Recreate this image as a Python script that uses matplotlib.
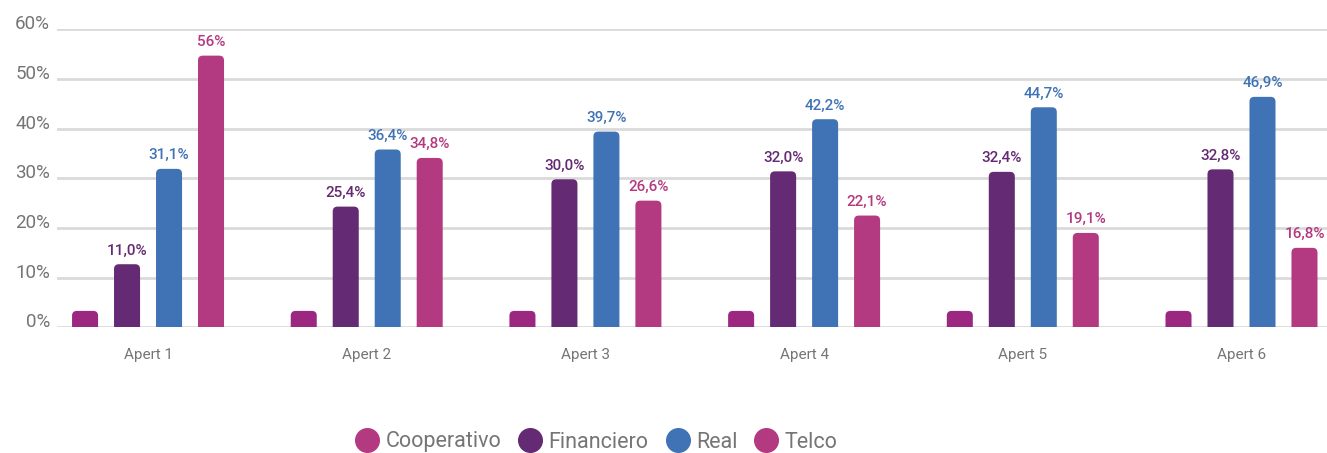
import numpy as np
import matplotlib
import matplotlib.pyplot as plt
from matplotlib.patches import FancyBboxPatch
from matplotlib.lines import Line2D

plt.rcParams['font.family'] = ['Roboto', 'DejaVu Sans']

# datos
grupos = ['Apert 1', 'Apert 2', 'Apert 3', 'Apert 4', 'Apert 5', 'Apert 6']
series = ['Cooperativo', 'Financiero', 'Real', 'Telco']
cooperativo = [3.3, 3.3, 3.3, 3.3, 3.3, 3.3]
financiero = [12.7, 24.3, 29.8, 31.4, 31.3, 31.8]
real = [31.9, 35.8, 39.4, 41.9, 44.3, 46.4]
telco = [54.7, 34.1, 25.5, 22.5, 19.0, 16.0]
etiq_financiero = ['11,0%', '25,4%', '30,0%', '32,0%', '32,4%', '32,8%']
etiq_real = ['31,1%', '36,4%', '39,7%', '42,2%', '44,7%', '46,9%']
etiq_telco = ['56%', '34,8%', '26,6%', '22,1%', '19,1%', '16,8%']
yticks = [0, 10, 20, 30, 40, 50, 60]

# colores
c_barras = ['#9B2780', '#642A73', '#4073B5', '#B33A80']
c_leyenda = ['#B33A80', '#642A73', '#4073B5', '#B33A80']
gris = '#757575'

fig = plt.figure(figsize=(13.27, 4.53), dpi=100)
ax = fig.add_axes([0.043, 0.2775, 0.957, 0.6578])

x = np.arange(len(grupos))
ancho = 0.119
paso = 0.192
aspecto = (1270 / 5.81) / (0.6578 * 453 / 60)  # px por unidad x / px por unidad y

datos = [cooperativo, financiero, real, telco]
etiquetas = [None, etiq_financiero, etiq_real, etiq_telco]

for i, vals in enumerate(datos):
    barras = ax.bar(x + (i - 1.5) * paso, vals, ancho, color=c_barras[i], zorder=3)
    for j, r in enumerate(barras):
        # barra con esquinas redondeadas arriba (la parte de abajo queda recortada)
        p = FancyBboxPatch((r.get_x(), -2), r.get_width(), r.get_height() + 2,
                           boxstyle='round,pad=0,rounding_size=0.022',
                           mutation_aspect=aspecto, fc=c_barras[i], ec='none', zorder=3)
        ax.add_patch(p)
        r.remove()
        if etiquetas[i] is not None:
            ax.annotate(etiquetas[i][j], (r.get_x() + r.get_width() / 2, r.get_height()),
                        xytext=(0, 7), textcoords='offset points', ha='center', va='baseline',
                        fontsize=11, fontweight='medium', color=c_barras[i], annotation_clip=False)

ax.set_xlim(-0.416, 5.391)
ax.set_ylim(0, 60)
ax.set_yticks(yticks, [f'{v}%' for v in yticks])
ax.set_xticks(x, grupos)
ax.yaxis.grid(True, color='#DADADA', linewidth=2, zorder=0)
ax.set_axisbelow(True)
for s in ax.spines.values():
    s.set_visible(False)
ax.tick_params(axis='y', length=0, pad=5, labelsize=13.5, labelcolor=gris)
ax.tick_params(axis='x', length=0, pad=15, labelsize=11, labelcolor=gris)
for lbl in ax.get_yticklabels():
    lbl.set_va('baseline')

manejadores = [Line2D([], [], marker='o', ls='', markersize=17, color=c) for c in c_leyenda]
fig.legend(manejadores, series, loc='center', bbox_to_anchor=(597 / 1327, 11 / 453), ncol=4,
           frameon=False, fontsize=15.5, labelcolor=gris, handletextpad=0.35, columnspacing=0.85,
           handlelength=1.0)

plt.savefig('out.png')
